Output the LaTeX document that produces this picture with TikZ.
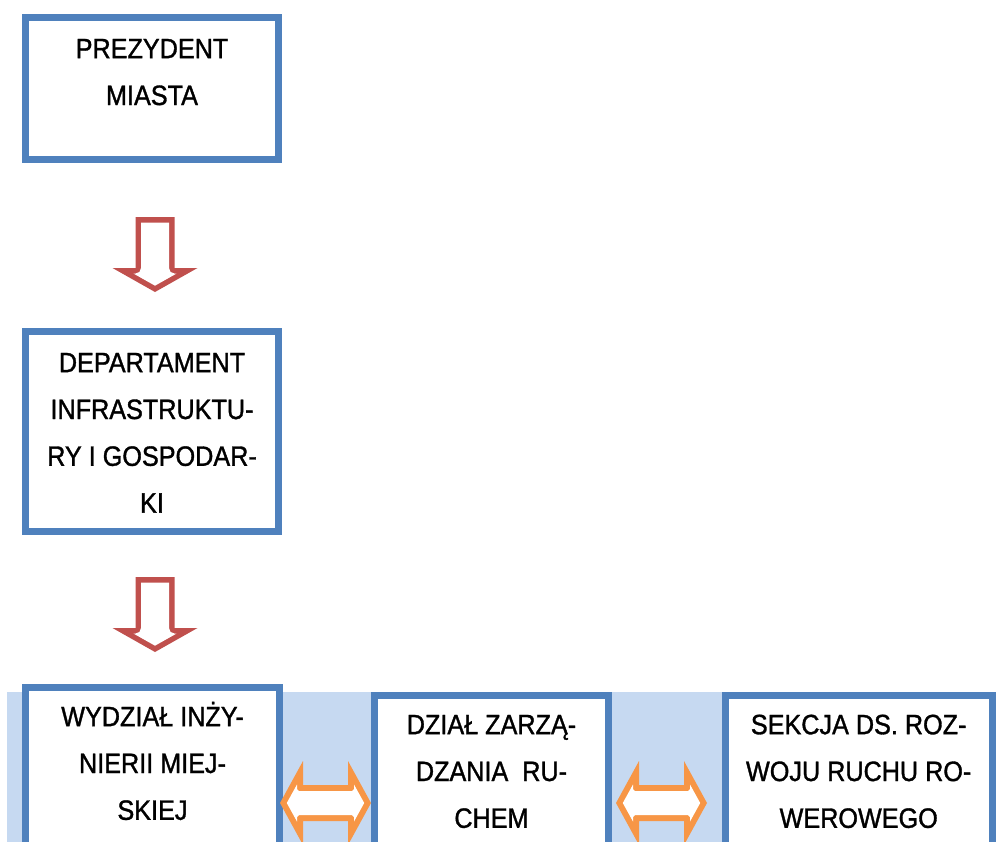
\documentclass[tikz,border=0pt]{standalone}
\usepackage{fontspec}
\setmainfont[FakeStretch=0.9,FakeBold=1.2]{Liberation Sans}
\definecolor{boxblue}{HTML}{4F81BD}
\definecolor{bandblue}{HTML}{C6D9F1}
\definecolor{arrred}{HTML}{C0504D}
\definecolor{arrorange}{HTML}{F79646}
\begin{document}
\begin{tikzpicture}[x=1pt,y=-1pt,
  boxstyle/.style={draw=boxblue, line width=7pt, fill=white, inner sep=0pt, outer sep=0pt, anchor=north west},
  lbl/.style={anchor=north, inner sep=0pt, align=center, font=\fontsize{28}{46.8}\selectfont},
  downarrow/.pic={
    \fill[arrred] (-19.5,0) -- (19.5,0) -- (19.5,51) -- (42.5,51) -- (0,75) -- (-42.5,51) -- (-19.5,51) -- cycle;
    \fill[white] (-14,5.5) -- (14,5.5) -- (14,51) -- (15.6,55) -- (19.5,56.5) -- (21.6,56.5) -- (0,68.7) -- (-21.6,56.5) -- (-19.5,56.5) -- (-15.6,55) -- (-14,51) -- cycle;
  },
  lrarrow/.pic={
    \fill[arrorange] (0,0) -- (23,-42) -- (23,-18) -- (68,-18) -- (68,-42) -- (91,0) -- (68,42) -- (68,18) -- (23,18) -- (23,42) -- cycle;
    \fill[white] (6.8,0) -- (17,-18.5) -- (17,-14) -- (19,-12) -- (72,-12) -- (74,-14) -- (74,-18.5) -- (84.2,0) -- (74,18.5) -- (74,14) -- (72,12) -- (19,12) -- (17,14) -- (17,18.5) -- cycle;
  }]
\useasboundingbox (0,0) rectangle (996,841);
\clip (0,0) rectangle (996,841);
\fill[bandblue] (7,692) rectangle (1000,850);
% boxes
\node[boxstyle, minimum width=253pt, minimum height=142pt] (prez) at (25.5,17.5) {};
\node[boxstyle, minimum width=253pt, minimum height=200pt] (dep) at (25.5,331.5) {};
\node[boxstyle, minimum width=253.5pt, minimum height=200pt] (wyd) at (25.5,687.5) {};
\node[boxstyle, minimum width=234pt, minimum height=200pt] (dzial) at (374.5,695.5) {};
\node[boxstyle, minimum width=267.5pt, minimum height=200pt] (sek) at (725,695.5) {};
% texts
\node[lbl] (prezt) at (152,28) {\rule{0pt}{30pt}PREZYDENT\\MIASTA};
\node[lbl] (dept) at (152,342) {\rule{0pt}{30pt}DEPARTAMENT\\INFRASTRUKTU-\\RY I GOSPODAR-\\KI};
\node[lbl] (wydt) at (152.5,696) {\rule{0pt}{30pt}WYDZIAŁ INŻY-\\NIERII MIEJ-\\SKIEJ};
\node[lbl] (dzialt) at (491.5,704) {\rule{0pt}{30pt}DZIAŁ ZARZĄ-\\DZANIA\ \ RU-\\CHEM};
\node[lbl] (sekt) at (858.7,704) {\rule{0pt}{30pt}SEKCJA DS. ROZ-\\WOJU RUCHU RO-\\WEROWEGO};
% block arrows
\pic at (155,217) {downarrow};
\pic at (155,577) {downarrow};
\pic at (280,803) {lrarrow};
\pic at (616,803) {lrarrow};
\end{tikzpicture}
\end{document}
